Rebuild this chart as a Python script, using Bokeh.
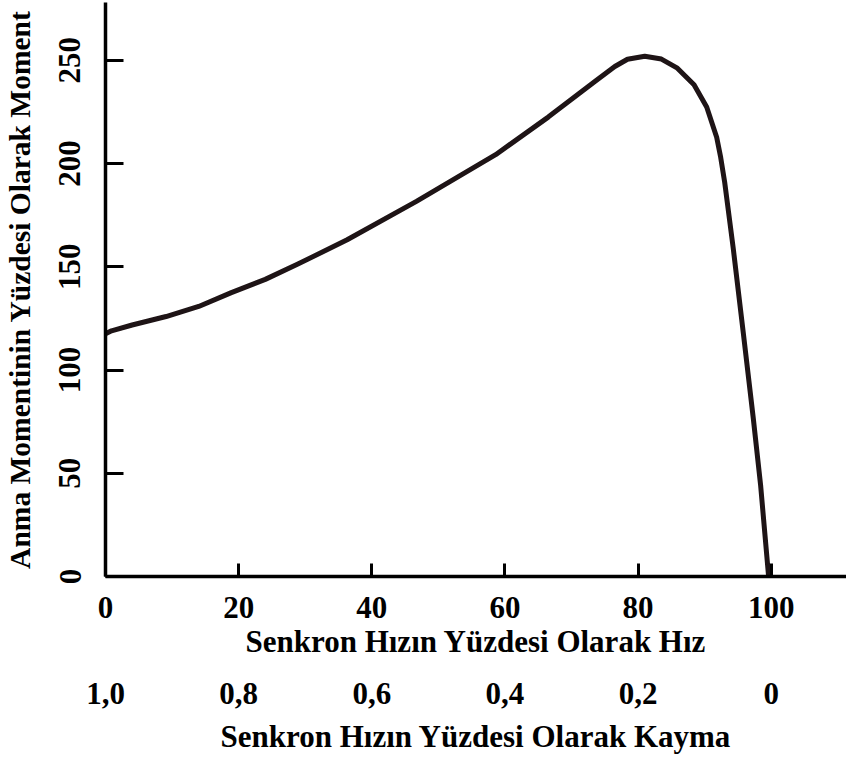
from bokeh.plotting import figure
from bokeh.models import Range1d, LinearAxis, FixedTicker
from bokeh.embed import file_html
from bokeh.resources import INLINE

# Speed as % of synchronous speed, torque as % of rated torque
speed = [0, 0.9, 4, 9.1, 14, 18.9, 24, 28.9, 36.3, 46.7, 58.6, 66.5, 73.5, 76.5, 78.4,
         81, 83.5, 85.9, 88.4, 90.3, 91.8, 92.4, 93, 94.3, 95.8, 97.3, 98.4, 99.6]
torque = [117.5, 119, 121.8, 125.9, 130.8, 137.5, 143.9, 151.3, 163.1, 181.7, 204.3, 222.5, 239.7, 247, 250.5,
          252, 250.6, 246.2, 238.2, 227.4, 212.7, 203, 191, 158.6, 117.9, 76.6, 44.2, 0]

speed_ticks = [0, 20, 40, 60, 80, 100]
torque_ticks = [0, 50, 100, 150, 200, 250]
slip_labels = ["1,0", "0,8", "0,6", "0,4", "0,2", "0"]

x_title = "Senkron Hızın Yüzdesi Olarak Hız"
slip_title = "Senkron Hızın Yüzdesi Olarak Kayma"
y_title = "Anma Momentinin Yüzdesi Olarak Moment"

FONT = "Liberation Serif"
FS_TICK = "31px"
FS_X = "31px"
FS_Y = "29.5px"

p = figure(width=846, height=756, x_range=Range1d(0, 111.3), y_range=Range1d(0, 278),
           output_backend="svg", toolbar_location=None,
           min_border_top=2, min_border_right=0, min_border_left=0, min_border_bottom=0)
p.grid.visible = False
p.outline_line_color = None
p.background_fill_color = "white"
p.border_fill_color = "white"

p.line(speed, torque, line_width=5, line_color="#1e1416", line_join="round", line_cap="round")

def style(ax, tick_in, label_fs):
    ax.axis_line_width = 3.5
    ax.axis_line_color = "black"
    ax.major_tick_in = tick_in
    ax.major_tick_out = 0
    ax.major_tick_line_width = 3
    ax.major_tick_line_color = "black"
    ax.minor_tick_line_color = None
    ax.major_label_text_font = FONT
    ax.major_label_text_font_style = "bold"
    ax.major_label_text_font_size = FS_TICK
    ax.major_label_text_color = "black"
    ax.axis_label_text_font = FONT
    ax.axis_label_text_font_style = "bold"
    ax.axis_label_text_font_size = label_fs
    ax.axis_label_text_color = "black"

xa = p.xaxis[0]
xa.ticker = FixedTicker(ticks=speed_ticks)
xa.axis_label = x_title
style(xa, 13, FS_X)
xa.major_label_standoff = 20
xa.axis_label_standoff = 3

ya = p.yaxis[0]
ya.ticker = FixedTicker(ticks=torque_ticks)
ya.axis_label = y_title
style(ya, 18, FS_Y)
ya.major_label_orientation = "parallel"
ya.major_label_standoff = 25
ya.axis_label_standoff = 21

sa = LinearAxis(ticker=FixedTicker(ticks=speed_ticks),
                major_label_overrides={t: s for t, s in zip(speed_ticks, slip_labels)},
                axis_label=slip_title)
style(sa, 0, FS_X)
sa.axis_line_color = None
sa.major_tick_line_color = None
sa.major_label_standoff = 21
sa.axis_label_standoff = 12
p.add_layout(sa, "below")

open("out.html", "w").write(file_html(p, INLINE))
